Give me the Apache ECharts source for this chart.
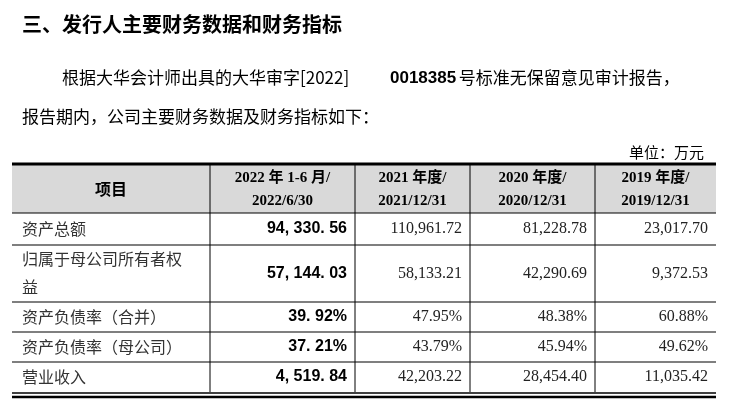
<!DOCTYPE html><html><head><meta charset="utf-8"><script src="https://cdn.jsdelivr.net/npm/echarts@6/dist/echarts.min.js"></script>
<style>html,body{margin:0;background:#fff}#c{width:731px;height:413px}</style></head><body><div id="c"></div><script>
const title = '三、发行人主要财务数据和财务指标';
const para1a = '根据大华会计师出具的大华审字[2022]', para1b = '0018385', para1c = ' 号标准无保留意见审计报告，';
const para2 = '报告期内，公司主要财务数据及财务指标如下：';
const unit = '单位：万元';
const headers = [['项目'], ['2022 年 1-6 月/', '2022/6/30'], ['2021 年度/', '2021/12/31'], ['2020 年度/', '2020/12/31'], ['2019 年度/', '2019/12/31']];
const rowLabels = [['资产总额'], ['归属于母公司所有者权', '益'], ['资产负债率（合并）'], ['资产负债率（母公司）'], ['营业收入']];
const v2022 = ['94, 330. 56', '57, 144. 03', '39. 92%', '37. 21%', '4, 519. 84'];
const v2021 = ['110,961.72', '58,133.21', '47.95%', '43.79%', '42,203.22'];
const v2020 = ['81,228.78', '42,290.69', '48.38%', '45.94%', '28,454.40'];
const v2019 = ['23,017.70', '9,372.53', '60.88%', '49.62%', '11,035.42'];

(function(){
const cols = [12, 210, 355, 470, 595, 716];
const rowsY = [213, 245, 302, 332, 362, 392];
const tTop = 164, headBot = 213;
const cjk = '"Noto Sans CJK SC"', serif = '"Liberation Serif", "Noto Sans CJK SC"';
const g = [];
const T = (x, y, text, o) => g.push({type:'text', x, y, style:Object.assign({text, fill:'#000', font:'17px ' + cjk, textVerticalAlign:'middle'}, o||{})});
const L = (x1,y1,x2,y2,w) => g.push({type:'line', shape:{x1,y1,x2,y2}, style:{stroke:'#000', lineWidth:w||1}});
T(22, 24, title, {font:'bold 20px ' + cjk});
T(62, 78, para1a, {font:'17px ' + cjk});
T(390, 78, para1b, {font:'bold 17px "Liberation Sans"'});
T(455, 78, para1c, {font:'17px ' + cjk});
T(22, 117, para2);
T(704, 152, unit, {textAlign:'right', font:'15px ' + cjk});
g.push({type:'rect', shape:{x:cols[0], y:tTop, width:cols[5]-cols[0], height:headBot-tTop}, style:{fill:'#d9d9d9'}});
L(cols[0], tTop, cols[5], tTop, 3);
headers.forEach((h,i)=>{
  const cx=(cols[i]+cols[i+1])/2;
  if(h.length===1) T(cx, 189, h[0], {textAlign:'center', font:'bold 16px ' + cjk});
  else { T(cx, 178, h[0], {textAlign:'center', font:'bold 15px "Liberation Serif", ' + cjk}); T(cx, 201, h[1], {textAlign:'center', font:'bold 15px "Liberation Serif"'}); }
});
const vals=[v2022,v2021,v2020,v2019];
rowLabels.forEach((r,i)=>{
  const y0=rowsY[i], y1=rowsY[i+1], cy=(y0+y1)/2;
  if(r.length===1) T(22, cy, r[0], {fill:'#333', font:'16px ' + cjk});
  else { T(22, y0+14, r[0], {fill:'#333', font:'16px ' + cjk}); T(22, y0+42, r[1], {fill:'#333', font:'16px ' + cjk}); }
  vals.forEach((v,j)=>{
    const bold=j===0;
    T(cols[j+2]-8, cy, v[i], {textAlign:'right', fill:bold?'#000':'#222', font: bold ? 'bold 16px "Liberation Sans"' : '16px ' + serif});
  });
});
rowsY.slice(0,5).forEach(y=>L(cols[0],y,cols[5],y,1.2));
cols.slice(1,5).forEach(x=>L(x, tTop, x, rowsY[5], 1));
L(cols[0], 393, cols[5], 393, 1.5);
L(cols[0], 397, cols[5], 397, 2.5);
const ch=echarts.init(document.getElementById('c'));
ch.setOption({animation:false, graphic:g});
})();
</script></body></html>
